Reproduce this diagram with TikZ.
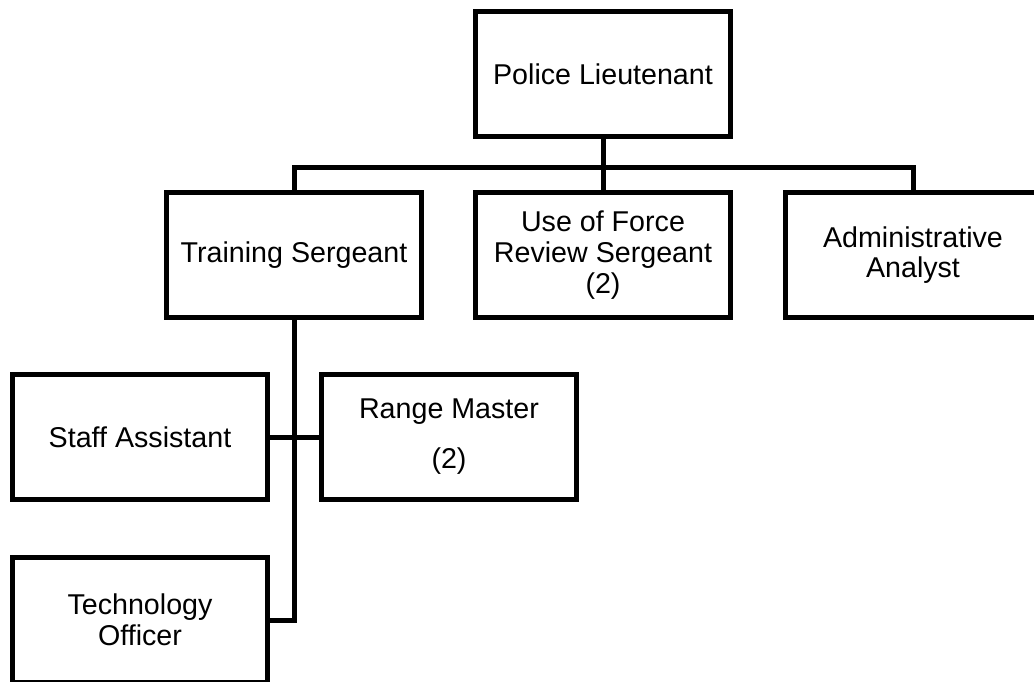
\documentclass[tikz,border=0pt]{standalone}
\usepackage{fontspec}
\setmainfont{Liberation Sans}
\begin{document}
\begin{tikzpicture}[x=0.02cm, y=-0.02cm, line width=0.1cm, line join=miter,
	font=\fontsize{16.3}{17.5}\selectfont,
	box/.style={draw, minimum width=5.1cm, minimum height=2.5cm, align=center, inner sep=0pt}]
			\useasboundingbox (0,0) rectangle (1034,681);
			\clip (0,0) rectangle (1034,681);
			\node[box] (lt) at (603,74) {Police Lieutenant};
			\node[box] (ts) at (294,255) {Training Sergeant};
			\node[box] (uf) at (603,255) {Use of Force\\Review Sergeant\\(2)};
			\node[box] (aa) at (913,255) {Administrative\\Analyst};
			\node[box] (sa) at (140,437) {Staff Assistant};
			\node[box] (rm) at (449,437) {Range Master\\[11pt](2)};
			\node[box] (to) at (140,620) {Technology\\Officer};
			% bus line under the lieutenant
			\path (lt.south)++(0,29) coordinate (bus);
			\draw (lt) -- (uf);
			\draw (ts.north) |- (bus) -| (aa.north);
			\draw (ts.south) |- (to.east);
			\draw (sa) -- (rm);
			\end{tikzpicture}
\end{document}
